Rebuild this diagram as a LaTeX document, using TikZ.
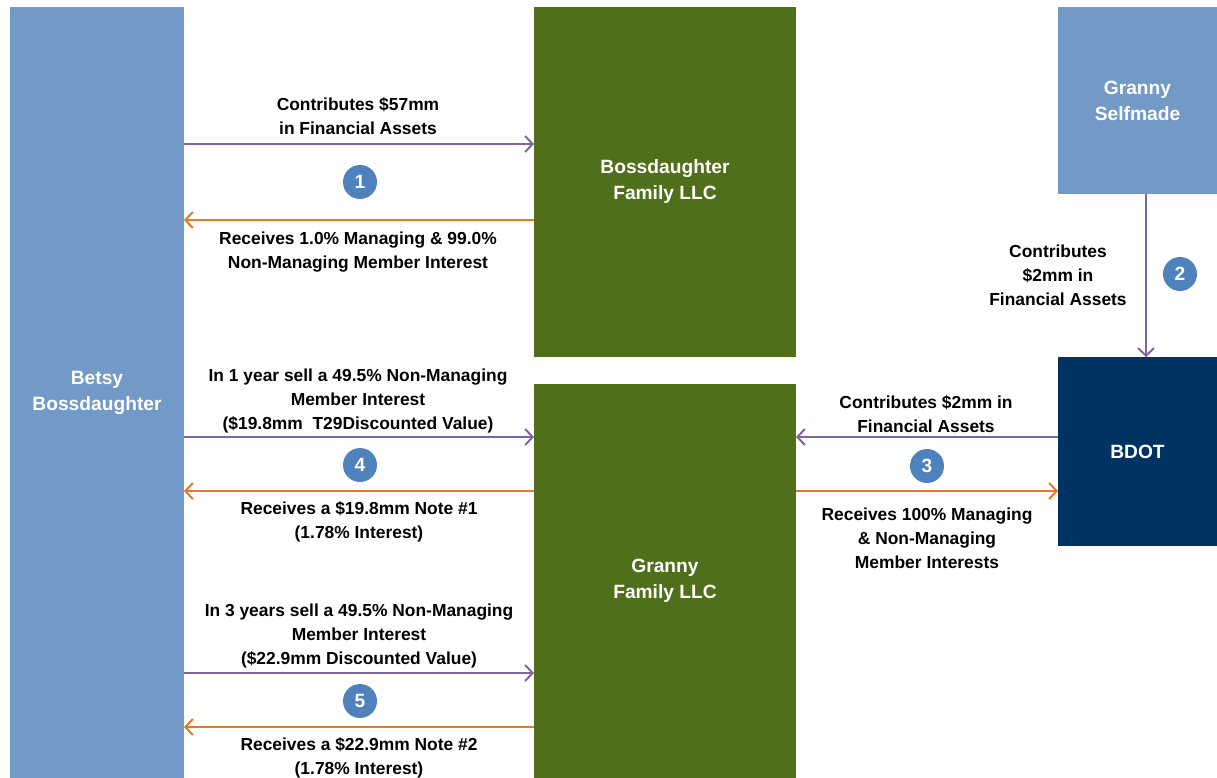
\documentclass[tikz,border=0pt]{standalone}
\usepackage{fontspec}
\setmainfont{Liberation Sans}
\usetikzlibrary{arrows.meta}
\definecolor{lblue}{RGB}{115,154,198}
\definecolor{lgreen}{RGB}{79,111,26}
\definecolor{navy}{RGB}{0,51,97}
\definecolor{purp}{RGB}{128,100,162}
\definecolor{orng}{RGB}{230,120,40}
\definecolor{cblue}{RGB}{79,129,189}
\newcommand\txtfont{\fontsize{17.4}{24}\selectfont\bfseries}
\newcommand\boxfont{\fontsize{19.2}{26}\selectfont\bfseries}
\begin{document}
\begin{tikzpicture}[x=1pt,y=-1pt,
  box/.style={inner sep=0pt, outer sep=0pt, anchor=north west, text=white, align=center, font=\boxfont},
  lbl/.style={align=center, font=\txtfont, text=black, inner sep=0pt},
  num/.style={circle, fill=cblue, minimum size=34pt, inner sep=0pt, text=white, font=\boxfont},
  pline/.style={draw=purp, line width=2pt, -{Straight Barb[length=7.5pt,width=16pt]}},
  oline/.style={draw=orng, line width=2pt, -{Straight Barb[length=7.5pt,width=16pt]}}]
\useasboundingbox (0,0) rectangle (1217,778);
% boxes
\node[box, fill=lblue, minimum width=174pt, minimum height=771pt] (betsy) at (10,7) {Betsy\\Bossdaughter};
\node[box, fill=lgreen, minimum width=262pt, minimum height=350pt] (boss) at (534,7) {Bossdaughter\\Family LLC};
\node[box, fill=lblue, minimum width=159pt, minimum height=187pt] (self) at (1058,7) {Granny\\Selfmade};
\node[box, fill=navy, minimum width=159pt, minimum height=189pt] (bdot) at (1058,357) {BDOT};
\node[box, fill=lgreen, minimum width=262pt, minimum height=394pt] (gfam) at (534,384) {Granny\\Family LLC};
% rows
\coordinate (r1a) at (0,144);
\coordinate (r1b) at (0,220);
\coordinate (r4a) at (0,437);
\coordinate (r4b) at (0,491);
\coordinate (r5a) at (0,673);
\coordinate (r5b) at (0,727);
\coordinate (c2) at (1146,0);
% connectors
\draw[pline] (betsy.east |- r1a) -- (boss.west |- r1a);
\draw[oline] (boss.west |- r1b) -- (betsy.east |- r1b);
\draw[pline] (betsy.east |- r4a) -- (gfam.west |- r4a);
\draw[oline] (gfam.west |- r4b) -- (betsy.east |- r4b);
\draw[pline] (betsy.east |- r5a) -- (gfam.west |- r5a);
\draw[oline] (gfam.west |- r5b) -- (betsy.east |- r5b);
\draw[pline] (bdot.west |- r4a) -- (gfam.east |- r4a);
\draw[oline] (gfam.east |- r4b) -- (bdot.west |- r4b);
\draw[pline] (c2 |- self.south) -- (c2 |- bdot.north);
% labels
\node[lbl] (t1a) at (358,116) {Contributes \$57mm\\in Financial Assets};
\node[lbl] (t1b) at (358,252) {Receives 1.0\% Managing \& 99.0\%\\Non-Managing Member Interest};
\node[lbl] (t2) at (1058,275) {Contributes\\\$2mm in\\Financial Assets};
\node[lbl] (t4a) at (358,401) {In 1 year sell a 49.5\% Non-Managing\\Member Interest\\(\$19.8mm\ \ T29Discounted Value)};
\node[lbl] (t4b) at (359,522) {Receives a \$19.8mm Note \#1\\(1.78\% Interest)};
\node[lbl] (t5a) at (359,636) {In 3 years sell a 49.5\% Non-Managing\\Member Interest\\(\$22.9mm Discounted Value)};
\node[lbl] (t5b) at (359,758) {Receives a \$22.9mm Note \#2\\(1.78\% Interest)};
\node[lbl] (t3a) at (926,414) {Contributes \$2mm in\\Financial Assets};
\node[lbl] (t3b) at (927,538) {Receives 100\% Managing\\\& Non-Managing\\Member Interests};
% numbers
\node[num] (n1) at (360,182) {1};
\node[num] (n2) at (1180,274) {2};
\node[num] (n3) at (927,466) {3};
\node[num] (n4) at (360,465) {4};
\node[num] (n5) at (360,701) {5};
\end{tikzpicture}
\end{document}
